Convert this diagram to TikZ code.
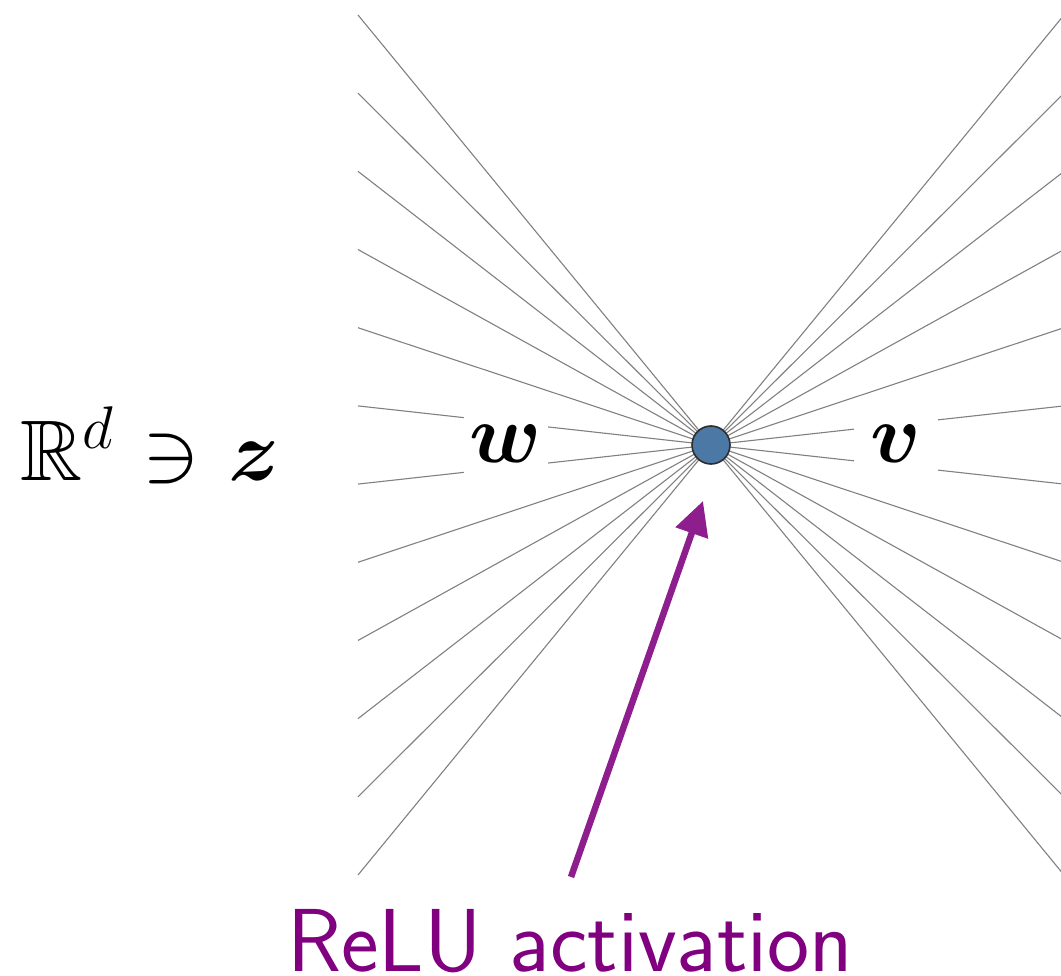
\RequirePackage{fix-cm}
\documentclass[tikz,border=0pt]{standalone}
\usepackage{amssymb,bm}
\usetikzlibrary{arrows.meta}
\definecolor{edgegray}{RGB}{128,128,128}
\definecolor{nodeblue}{RGB}{76,120,166}
\definecolor{nodeedge}{RGB}{45,45,45}
\definecolor{relupurple}{RGB}{128,0,128}
\definecolor{arrowpurple}{RGB}{142,30,142}
\begin{document}
\begin{tikzpicture}[x=1pt,y=-1pt,
  edge/.style={draw=edgegray,line width=1.1pt},
  weightlabel/.style={fill=white,inner sep=0pt,minimum width=84pt,minimum height=80pt,font=\fontsize{84}{100}\selectfont},
  neuron/.style={circle,fill=nodeblue,draw=nodeedge,line width=1.6pt,minimum size=38pt,inner sep=0pt},
  bigmath/.style={inner sep=0pt,font=\fontsize{86}{100}\selectfont},
  relulabel/.style={inner sep=0pt,text=relupurple,font=\fontsize{89.5}{100}\selectfont\sffamily},
  relarrow/.style={draw=arrowpurple,line width=6.5pt,-{Triangle[length=34pt,width=33pt]}}]
\useasboundingbox (0,0) rectangle (1061,976);
\coordinate (cc) at (711,445);
\foreach \i in {0,...,11}{
  \pgfmathsetmacro\yy{15+\i*78.18}
  \coordinate (L\i) at (358,\yy);
  \coordinate (R\i) at (1064,\yy);
  \draw[edge] (L\i) -- (cc);
  \draw[edge] (R\i) -- (cc);
}
\node[weightlabel] (w) at (505.5,444) {$\bm{w}$};
\node[weightlabel] (v) at (896,444) {$\bm{v}$};
\node[neuron] (c) at (cc) {};
\node[bigmath,anchor=base west] (z) at (20,480) {$\mathbb{R}^d \mathrel{\mkern1mu\ni\mkern1mu} \bm{z}$};
\node[relulabel,anchor=base] (relu) at (570,971) {ReLU activation};
\coordinate (tail) at (571,877);
\coordinate (tip) at (703,501);
\draw[relarrow] (tail) -- (tip);
\end{tikzpicture}
\end{document}
